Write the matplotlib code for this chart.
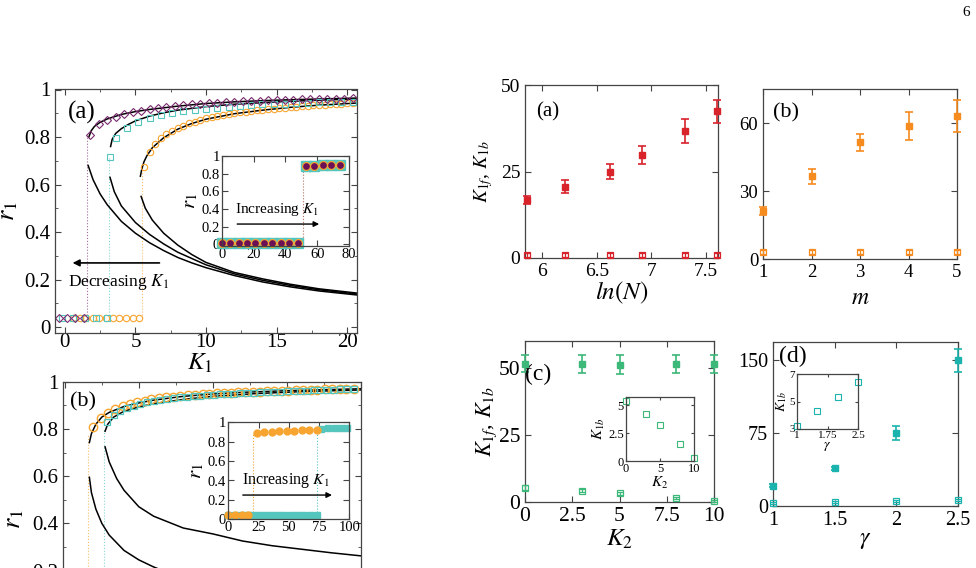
import numpy as np
import matplotlib.pyplot as plt
from matplotlib.ticker import MultipleLocator

plt.rcParams['font.family'] = ['Liberation Serif', 'DejaVu Serif']
plt.rcParams['mathtext.fontset'] = 'stix'
plt.rcParams['xtick.direction'] = 'in'
plt.rcParams['ytick.direction'] = 'in'
plt.rcParams['xtick.top'] = True
plt.rcParams['ytick.right'] = True
plt.rcParams['axes.linewidth'] = 0.9
plt.rcParams['axes.edgecolor'] = '#444444'

W, H = 976, 568
PURPLE = '#7a2a6e'
CYAN = '#55c6be'
ORANGE = '#f7a530'
RED = '#d8232a'
ORG2 = '#f68b1f'
GREEN = '#3cb878'
TEAL = '#1bb3ad'

# ---------------- left (a): r1 vs K1, backward sweep ----------------
a_dia_lo_k = [-0.45, 0.15, 0.75, 1.35]
a_dia_lo_r = [0.04, 0.04, 0.04, 0.04]
a_dia_up_k = [1.8, 2.4, 3.0, 3.6, 4.2, 4.8, 5.4, 6.0, 6.6, 7.2, 7.8, 8.4, 9.0, 9.6, 10.2, 10.8,
              11.4, 12.0, 12.6, 13.2, 13.8, 14.4, 15.0, 15.6, 16.2, 16.8, 17.4, 18.0, 18.6, 19.2, 19.8, 20.4]
a_dia_up_r = [0.81, 0.853, 0.872, 0.885, 0.896, 0.904, 0.911, 0.917, 0.922, 0.926, 0.930, 0.934, 0.937, 0.940,
              0.942, 0.944, 0.946, 0.948, 0.950, 0.951, 0.953, 0.954, 0.955, 0.956, 0.957, 0.958, 0.959, 0.960,
              0.961, 0.962, 0.962, 0.963]
a_sq_lo_k = [-0.2, 0.6, 1.4, 2.2, 2.95]
a_sq_lo_r = [0.04, 0.04, 0.04, 0.04, 0.04]
a_sq_up_k = [3.2, 3.6, 4.4, 5.2, 6.0, 6.8, 7.6, 8.4, 9.2, 10.0, 10.8, 11.6, 12.4, 13.2, 14.0, 14.8,
             15.6, 16.4, 17.2, 18.0, 18.8, 19.6, 20.4]
a_sq_up_r = [0.715, 0.795, 0.838, 0.862, 0.879, 0.891, 0.9, 0.908, 0.914, 0.92, 0.924, 0.928, 0.931,
             0.934, 0.937, 0.939, 0.941, 0.943, 0.945, 0.946, 0.947, 0.948, 0.949]
a_ci_lo_k = [0.6, 1.05, 1.5, 2.0, 2.45, 2.9, 3.4, 3.85, 4.3, 4.8, 5.25]
a_ci_lo_r = [0.04, 0.04, 0.04, 0.04, 0.04, 0.04, 0.04, 0.04, 0.04, 0.04, 0.04]
a_ci_up_k = [5.6, 6.0, 6.4, 6.8, 7.2, 7.6, 8.0, 8.4, 8.8, 9.2, 9.6, 10.0, 10.4, 10.8, 11.2, 11.6, 12.0,
             12.4, 12.8, 13.2, 13.6, 14.0, 14.4, 14.8, 15.2, 15.6, 16.0, 16.4, 16.8, 17.2, 17.6, 18.0,
             18.4, 18.8, 19.2, 19.6, 20.0, 20.4]
a_ci_up_r = [0.675, 0.735, 0.77, 0.795, 0.812, 0.826, 0.838, 0.848, 0.857, 0.865, 0.872, 0.878, 0.884,
             0.889, 0.893, 0.897, 0.901, 0.904, 0.907, 0.91, 0.913, 0.915, 0.918, 0.92, 0.922, 0.924,
             0.926, 0.928, 0.93, 0.932, 0.933, 0.935, 0.936, 0.938, 0.939, 0.94, 0.942, 0.943]

# theory branches (stable upper, unstable lower)
a_th1_up_k = [1.7, 1.85, 2.1, 2.5, 3.0, 4.0, 5.0, 6.0, 8.0, 10.0, 12.0, 14.0, 16.0, 18.0, 20.7]
a_th1_up_r = [0.80, 0.825, 0.845, 0.862, 0.876, 0.895, 0.907, 0.916, 0.93, 0.941, 0.948, 0.953, 0.957, 0.96, 0.964]
a_th2_up_k = [3.24, 3.35, 3.6, 4.0, 4.5, 5.0, 6.0, 7.0, 8.0, 10.0, 12.0, 15.0, 18.0, 20.7]
a_th2_up_r = [0.76, 0.79, 0.815, 0.835, 0.853, 0.868, 0.888, 0.902, 0.913, 0.928, 0.938, 0.948, 0.955, 0.96]
a_th3_up_k = [5.35, 5.45, 5.6, 5.8, 6.2, 7.0, 8.0, 9.0, 10.0, 12.0, 14.0, 16.0, 18.0, 20.7]
a_th3_up_r = [0.635, 0.665, 0.695, 0.72, 0.755, 0.797, 0.833, 0.857, 0.875, 0.898, 0.913, 0.925, 0.934, 0.943]
a_th1_lo_k = [1.65, 2.0, 2.5, 3.0, 4.0, 5.0, 6.0, 7.0, 8.0, 9.0, 10.0, 12.0, 14.0, 16.0, 18.0, 20.7]
a_th1_lo_r = [0.68, 0.62, 0.56, 0.515, 0.445, 0.395, 0.355, 0.322, 0.293, 0.27, 0.25, 0.217, 0.19, 0.169, 0.152, 0.135]
a_th2_lo_k = [3.2, 3.5, 4.0, 5.0, 6.0, 7.0, 8.0, 10.0, 12.0, 14.0, 16.0, 18.0, 20.7]
a_th2_lo_r = [0.63, 0.57, 0.51, 0.44, 0.39, 0.35, 0.315, 0.262, 0.224, 0.197, 0.175, 0.157, 0.139]
a_th3_lo_k = [5.4, 5.7, 6.2, 7.0, 8.0, 9.0, 10.0, 12.0, 14.0, 16.0, 18.0, 20.7]
a_th3_lo_r = [0.55, 0.50, 0.45, 0.395, 0.345, 0.305, 0.272, 0.23, 0.203, 0.18, 0.161, 0.143]
a_jump_k = [1.55, 3.1, 5.45]
a_jump_top = [0.80, 0.715, 0.675]

# inset of left (a): forward sweep
ia_lo_k = [0, 5.3, 10.6, 15.9, 21.2, 26.5, 31.8, 37.1, 42.4, 47.7]
ia_lo_r = [0.02, 0.02, 0.02, 0.02, 0.02, 0.02, 0.02, 0.02, 0.02, 0.02]
ia_up_k = [53, 58.3, 63.6, 68.9, 74.2]
ia_up_r = [0.885, 0.89, 0.895, 0.895, 0.9]

# ---------------- left (b) ----------------
b_ci_up_k = [1.93, 2.45, 2.95, 3.4, 3.9, 4.4, 4.9, 5.4, 5.85, 6.35, 6.85, 7.3, 7.8, 8.3, 8.8, 9.3,
             9.75, 10.25, 10.75, 11.2, 11.7, 12.2, 12.7, 13.2, 13.65, 14.15, 14.65, 15.1, 15.6, 16.1,
             16.6, 17.05, 17.55, 18.05, 18.55, 19.0, 19.5]
b_ci_up_r = [0.81, 0.847, 0.869, 0.884, 0.897, 0.906, 0.914, 0.92, 0.925, 0.93, 0.934, 0.937, 0.94,
             0.943, 0.945, 0.947, 0.949, 0.951, 0.952, 0.954, 0.955, 0.956, 0.957, 0.958, 0.959, 0.96,
             0.961, 0.962, 0.963, 0.964, 0.965, 0.966, 0.967, 0.968, 0.969, 0.97, 0.971]
b_sq_up_k = [2.87, 3.3, 3.75, 4.2, 4.65, 5.1, 5.55, 6.0, 6.45, 6.9, 7.35, 7.8, 8.25, 8.7, 9.15, 9.6,
             10.05, 10.5, 10.95, 11.4, 11.85, 12.3, 12.75, 13.2, 13.65, 14.1, 14.55, 15.0, 15.45, 15.9,
             16.35, 16.8, 17.25, 17.7, 18.15, 18.6, 19.05, 19.5]
b_sq_up_r = [0.828, 0.858, 0.875, 0.888, 0.898, 0.906, 0.912, 0.918, 0.923, 0.927, 0.931, 0.934, 0.937,
             0.939, 0.941, 0.943, 0.945, 0.947, 0.948, 0.95, 0.951, 0.952, 0.953, 0.955, 0.956, 0.957,
             0.958, 0.959, 0.96, 0.961, 0.962, 0.963, 0.964, 0.965, 0.966, 0.967, 0.968, 0.969]
b_th1_up_k = [1.66, 1.8, 2.1, 2.5, 3.0, 4.0, 5.0, 6.0, 8.0, 10.0, 12.0, 15.0, 18.0, 20.0]
b_th1_up_r = [0.742, 0.78, 0.82, 0.85, 0.87, 0.895, 0.91, 0.922, 0.938, 0.948, 0.955, 0.962, 0.967, 0.97]
b_th2_up_k = [2.72, 2.9, 3.3, 4.0, 5.0, 6.0, 8.0, 10.0, 13.0, 16.0, 20.0]
b_th2_up_r = [0.79, 0.82, 0.85, 0.875, 0.893, 0.907, 0.925, 0.938, 0.95, 0.958, 0.965]
b_th1_lo_k = [1.66, 1.8, 2.1, 2.5, 3.0, 4.0, 5.0, 6.0, 7.0, 8.0, 10.0, 12.0, 15.0, 20.0]
b_th1_lo_r = [0.595, 0.53, 0.46, 0.40, 0.35, 0.285, 0.245, 0.215, 0.19, 0.17, 0.14, 0.12, 0.10, 0.08]
b_th2_lo_k = [2.72, 3.0, 3.5, 4.0, 5.0, 6.0, 8.0, 10.0, 12.0, 14.0, 16.0, 18.0, 20.0]
b_th2_lo_r = [0.724, 0.66, 0.59, 0.54, 0.47, 0.43, 0.38, 0.355, 0.325, 0.305, 0.29, 0.275, 0.262]
b_jump_k = [1.6, 2.67]
b_jump_top = [0.78, 0.8]

# inset of left (b)
ib_ci_lo_k = [0, 5.5, 11, 16.5]
ib_ci_lo_r = [0.04, 0.04, 0.04, 0.04]
ib_ci_up_k = [23.5, 29.7, 35.9, 42.1, 48.3, 54.5, 60.7, 66.9, 73.1]
ib_ci_up_r = [0.89, 0.9, 0.905, 0.91, 0.912, 0.915, 0.918, 0.92, 0.925]
ib_sq_lo_k = [0, 5.5, 11, 16, 21.2, 26.2, 31.1, 36.3, 41.3, 46.2, 51.5, 56.4, 62, 67.5, 73]
ib_sq_lo_r = [0.04] * 15
ib_sq_up_k = [77, 82.5, 88, 93.5, 98.5]
ib_sq_up_r = [0.935, 0.94, 0.94, 0.94, 0.94]

# ---------------- right panels: K1f (filled) and K1b (open) ----------------
lnN = [5.86, 6.21, 6.62, 6.91, 7.31, 7.6]
lnN_f = [16.8, 20.6, 25.0, 29.8, 36.7, 42.4]
lnN_ferr = [1.2, 1.9, 2.1, 2.6, 3.4, 3.3]
lnN_b = [0.8, 0.8, 0.8, 0.8, 0.8, 0.8]
lnN_berr = [0.6, 0.6, 0.6, 0.6, 0.6, 0.6]

m_vals = [1, 2, 3, 4, 5]
m_f = [21.2, 36.4, 51.4, 58.8, 63.1]
m_ferr = [1.9, 3.3, 3.6, 6.2, 7.1]
m_b = [3.0, 3.0, 3.0, 3.0, 3.0]
m_berr = [0.8, 0.8, 0.8, 0.8, 0.8]

k2_vals = [0, 3, 5, 8, 10]
k2_f = [51.6, 51.4, 51.1, 51.5, 51.5]
k2_ferr = [3.1, 3.5, 3.5, 3.4, 3.4]
k2_b = [5.4, 4.2, 3.2, 1.5, 0.3]
k2_berr = [0.8, 0.6, 0.6, 0.5, 0.4]

g_vals = [1, 1.5, 2, 2.5]
g_f = [21, 39, 75, 150]
g_ferr = [1.5, 1.5, 7, 11.5]
g_b = [3.2, 4.3, 5.3, 6.4]
g_berr = [1.0, 1.0, 1.0, 1.0]

fig = plt.figure(figsize=(W / 100, H / 100), dpi=100)


def box(x0, y0, x1, y1):
    return fig.add_axes([x0 / W, 1 - y1 / H, (x1 - x0) / W, (y1 - y0) / H])


def style(ax, size):
    ax.tick_params(which='major', length=4, width=0.8, labelsize=size, colors='#444444', labelcolor='black')
    ax.tick_params(which='minor', length=2.5, width=0.6, colors='#444444')


R_TICKS = [0, 0.2, 0.4, 0.6, 0.8, 1.0]
R_LABELS = ['0', '0.2', '0.4', '0.6', '0.8', '1']

# ---- left (a) ----
ax = box(55, 89.5, 357, 333)
ax.set_xlim(-0.7, 20.7)
ax.set_ylim(-0.025, 1.0)
for k, top, c in zip(a_jump_k, a_jump_top, [PURPLE, CYAN, ORANGE]):
    ax.plot([k, k], [0.04, top], ls=':', lw=0.8, color=c, alpha=0.7)
for kk, rr in [(a_th1_up_k, a_th1_up_r), (a_th2_up_k, a_th2_up_r), (a_th3_up_k, a_th3_up_r),
               (a_th1_lo_k, a_th1_lo_r), (a_th2_lo_k, a_th2_lo_r), (a_th3_lo_k, a_th3_lo_r)]:
    ax.plot(kk, rr, color='black', lw=1.1)
ax.plot(a_ci_lo_k + a_ci_up_k, a_ci_lo_r + a_ci_up_r, 'o', ms=4.6, mfc='none', mec=ORANGE, mew=0.8)
ax.plot(a_sq_lo_k + a_sq_up_k, a_sq_lo_r + a_sq_up_r, 's', ms=5, mfc='none', mec=CYAN, mew=0.8)
ax.plot(a_dia_lo_k + a_dia_up_k, a_dia_lo_r + a_dia_up_r, 'D', ms=4.2, mfc='none', mec=PURPLE, mew=0.8,
        clip_on=False)
ax.annotate('', xy=(0.35, 0.27), xytext=(6.9, 0.27),
            arrowprops=dict(arrowstyle='-|>', color='black', lw=1.2, mutation_scale=10))
ax.text(0.2, 0.19, 'Decreasing $K_1$', fontsize=12.5, va='center')
ax.text(0.2, 0.903, '(a)', fontsize=18, va='center')
ax.set_xticks([0, 5, 10, 15, 20])
ax.set_yticks(R_TICKS)
ax.set_yticklabels(R_LABELS)
ax.xaxis.set_minor_locator(MultipleLocator(2.5))
ax.yaxis.set_minor_locator(MultipleLocator(0.1))
style(ax, 15)
ax.tick_params(axis='x', pad=0)
ax.set_xlabel('$K_1$', fontsize=18)
ax.xaxis.set_label_coords(0.48, -0.078)
ax.set_ylabel('$r_1$', fontsize=19)
ax.yaxis.set_label_coords(-0.115, 0.5)

# inset (a)
ax = box(221.7, 156, 349, 245.7)
ax.set_xlim(0, 80)
ax.set_ylim(-0.015, 1.0)
ax.plot([51, 51], [0.02, 0.885], ls=':', lw=0.8, color='#b07060')
kk = ia_lo_k + ia_up_k
rr = ia_lo_r + ia_up_r
ax.plot(kk, rr, 's', ms=7, color=CYAN, clip_on=False)
ax.plot(kk, rr, 'o', ms=5.5, color=ORANGE, clip_on=False)
ax.plot(kk, rr, 'o', ms=3.8, color='#6b0f56', clip_on=False)
ax.annotate('', xy=(63, 0.23), xytext=(8, 0.23),
            arrowprops=dict(arrowstyle='-|>', color='black', lw=1.0, mutation_scale=8))
ax.text(8.5, 0.39, 'Increasing $K_1$', fontsize=11, va='center')
ax.set_xticks([0, 20, 40, 60, 80])
ax.set_yticks(R_TICKS)
ax.set_yticklabels(R_LABELS)
style(ax, 10.5)
ax.tick_params(pad=1.5)
ax.set_ylabel('$r_1$', fontsize=15, labelpad=1)

# ---- left (b) ----
ax = box(63.3, 381.7, 361, 623.6)
ax.set_xlim(-0.1, 20)
ax.set_ylim(-0.025, 1.0)
for k, top, c in zip(b_jump_k, b_jump_top, [ORANGE, CYAN]):
    ax.plot([k, k], [0.0, top], ls=':', lw=0.8, color=c, alpha=0.7)
for kk, rr in [(b_th1_up_k, b_th1_up_r), (b_th2_up_k, b_th2_up_r),
               (b_th1_lo_k, b_th1_lo_r), (b_th2_lo_k, b_th2_lo_r)]:
    ax.plot(kk, rr, color='black', lw=1.1)
ax.plot(b_ci_up_k, b_ci_up_r, 'o', ms=6, mfc='none', mec=ORANGE, mew=1.0)
ax.plot(b_sq_up_k, b_sq_up_r, 's', ms=4.2, mfc='none', mec=CYAN, mew=0.9)
ax.text(0.35, 0.915, '(b)', fontsize=16, va='center')
ax.set_xticks([0, 5, 10, 15, 20])
ax.set_yticks(R_TICKS)
ax.set_yticklabels(R_LABELS)
ax.xaxis.set_minor_locator(MultipleLocator(2.5))
ax.yaxis.set_minor_locator(MultipleLocator(0.1))
style(ax, 15)
ax.tick_params(axis='x', labelbottom=False)
ax.set_ylabel('$r_1$', fontsize=19)
ax.yaxis.set_label_coords(-0.125, 0.43)

# inset (b)
ax = box(228.3, 422.3, 349.3, 519.3)
ax.set_xlim(0, 100)
ax.set_ylim(0, 1.0)
ax.plot([20.7, 20.7], [0.04, 0.89], ls=':', lw=0.8, color=ORANGE)
ax.plot([73.5, 73.5], [0.04, 0.935], ls=':', lw=0.8, color=CYAN)
ax.plot(ib_sq_lo_k + ib_sq_up_k, ib_sq_lo_r + ib_sq_up_r, 's', ms=4, color=CYAN, clip_on=False)
ax.plot(ib_ci_lo_k + ib_ci_up_k, ib_ci_lo_r + ib_ci_up_r, 'o', ms=5, color=ORANGE, clip_on=False)
ax.annotate('', xy=(88, 0.25), xytext=(9.7, 0.25),
            arrowprops=dict(arrowstyle='-|>', color='black', lw=1.0, mutation_scale=8))
ax.text(11, 0.405, 'Increasing $K_1$', fontsize=11.5, va='center')
ax.set_xticks([0, 25, 50, 75, 100])
ax.set_yticks(R_TICKS)
ax.set_yticklabels(R_LABELS)
style(ax, 10.5)
ax.tick_params(pad=1.5)
ax.set_ylabel('$r_1$', fontsize=15, labelpad=1)


# ---- right panels ----
def errpanel(ax, x, yf, ef, yb, eb, col, ms=4.5):
    ax.errorbar(x, yf, yerr=ef, fmt='s', ms=ms, color=col, ecolor=col, elinewidth=1.2,
                capsize=3, capthick=1.2, clip_on=False, zorder=3)
    ax.errorbar(x, yb, yerr=eb, fmt='s', ms=ms + 0.5, mfc='none', mec=col, color=col, mew=0.9,
                ecolor=col, elinewidth=0.9, capsize=2.5, capthick=0.9, clip_on=False, zorder=3)


ax = box(525, 85, 718, 258)
errpanel(ax, lnN, lnN_f, lnN_ferr, lnN_b, lnN_berr, RED)
ax.set_xlim(5.84, 7.61)
ax.set_ylim(0, 50)
ax.set_xticks([6, 6.5, 7, 7.5])
ax.set_xticklabels(['6', '6.5', '7', '7.5'])
ax.set_yticks([0, 25, 50])
style(ax, 14)
ax.set_xlabel('$ln(N)$', fontsize=18, labelpad=0)
ax.set_ylabel('$K_{1f}$, $K_{1b}$', fontsize=14, labelpad=4)
ax.text(0.06, 0.844, '(a)', transform=ax.transAxes, fontsize=15, va='center')

ax = box(763, 89, 957, 259)
errpanel(ax, m_vals, m_f, m_ferr, m_b, m_berr, ORG2)
ax.set_xlim(1, 5)
ax.set_ylim(0, 75)
ax.set_xticks([1, 2, 3, 4, 5])
ax.set_yticks([0, 30, 60])
style(ax, 13.5)
ax.set_xlabel('$m$', fontsize=17, labelpad=5)
ax.text(0.05, 0.86, '(b)', transform=ax.transAxes, fontsize=16, va='center')

ax = box(525, 341, 714, 502)
errpanel(ax, k2_vals, k2_f, k2_ferr, k2_b, k2_berr, GREEN)
ax.set_xlim(0, 10)
ax.set_ylim(0, 60)
ax.set_xticks([0, 2.5, 5, 7.5, 10])
ax.set_xticklabels(['0', '2.5', '5', '7.5', '10'])
ax.set_yticks([0, 25, 50])
style(ax, 15.5)
ax.set_xlabel('$K_2$', fontsize=18, labelpad=1)
ax.set_ylabel('$K_{1f}$, $K_{1b}$', fontsize=16, labelpad=0)
ax.text(0.0, 0.79, '(c)', transform=ax.transAxes, fontsize=17, va='center')

ax = box(626, 397, 694, 461)
ax.plot(k2_vals, k2_b, 's', ms=5, mfc='none', mec=GREEN, mew=0.8, clip_on=False)
ax.set_xlim(0, 10)
ax.set_ylim(0, 5.75)
ax.set_xticks([0, 5, 10])
ax.set_yticks([0, 2.5, 5])
ax.set_yticklabels(['0', '2.5', '5'])
style(ax, 9)
ax.tick_params(length=2.5, pad=1.5)
ax.set_xlabel('$K_2$', fontsize=11, labelpad=0)
ax.set_ylabel('$K_{1b}$', fontsize=11, labelpad=1)

ax = box(773, 342, 958, 506)
errpanel(ax, g_vals, g_f, g_ferr, g_b, g_berr, TEAL)
ax.set_xlim(1, 2.5)
ax.set_ylim(0, 169)
ax.set_xticks([1, 1.5, 2, 2.5])
ax.set_xticklabels(['1', '1.5', '2', '2.5'])
ax.set_yticks([0, 75, 150])
style(ax, 14.5)
ax.set_xlabel('$\\gamma$', fontsize=17, labelpad=0)
ax.text(0.03, 0.91, '(d)', transform=ax.transAxes, fontsize=17, va='center')

ax = box(797, 374, 858, 429)
ax.plot(g_vals, g_b, 's', ms=5, mfc='none', mec=TEAL, mew=0.8, clip_on=False)
ax.set_xlim(1, 2.5)
ax.set_ylim(3, 7)
ax.set_xticks([1, 1.75, 2.5])
ax.set_xticklabels(['1', '1.75', '2.5'])
ax.set_yticks([3, 5, 7])
style(ax, 8)
ax.tick_params(length=2, pad=1.5)
ax.set_xlabel('$\\gamma$', fontsize=10, labelpad=0)
ax.set_ylabel('$K_{1b}$', fontsize=10, labelpad=0)

fig.text(966 / W, 1 - 13 / H, '6', fontsize=11, ha='center', va='center')

fig.savefig('out.png', dpi=100)
